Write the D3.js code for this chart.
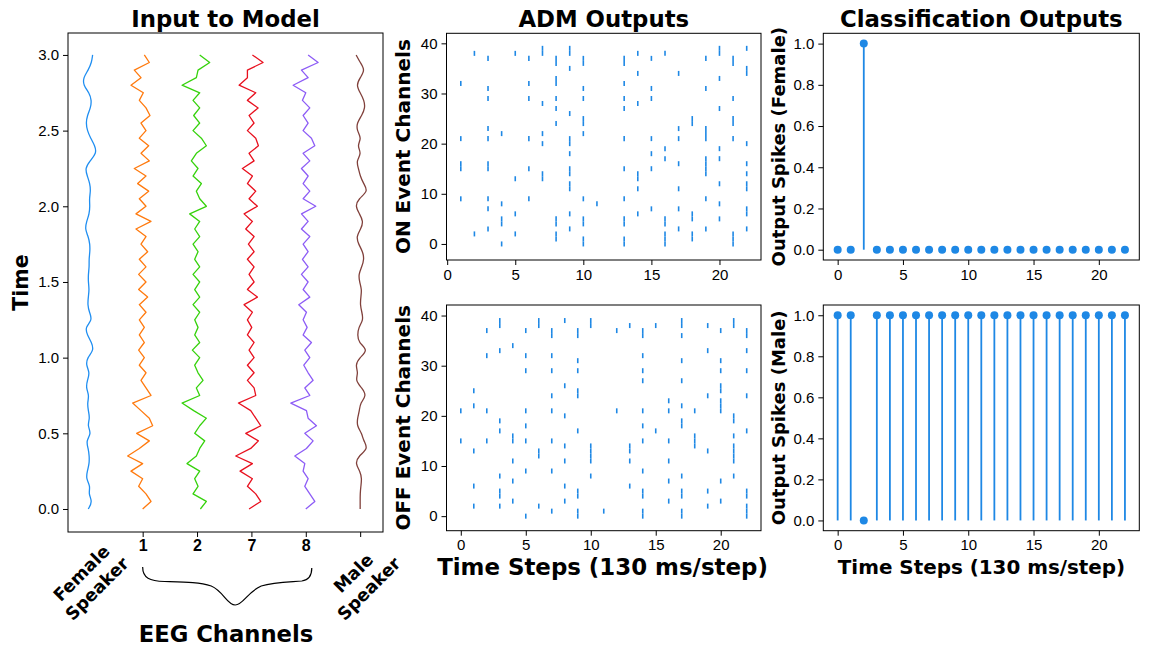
<!DOCTYPE html>
<html>
<head>
<meta charset="utf-8">
<script src="https://cdn.jsdelivr.net/npm/d3@7"></script>
<style>
  body { margin: 0; background: #fff; }
  svg { display: block; font-family: "DejaVu Sans", sans-serif; }
  .tick text { font-size: 15px; fill: #000; }
  .tick line { stroke: #000; }
  .domain { display: none; }
  .lbl { font-weight: bold; fill: #000; }
</style>
</head>
<body>
<svg id="fig" width="1161" height="652"></svg>
<script>
// ---- input traces (sampled every 0.05 s from 0 to 3 s), offsets in trace units
var traceTime = d3.range(0, 61).map(function(i) { return i * 0.05; });
var femaleSpeaker = [0,13,0,7,-7,-3,3,3,0,-7, 10,-3,5,0,-3,3,-7,-3,5,-7,
  -3,17,10,-3,-10,13,3,-2,0,3, 0,0,3,2,5,5,0,-10,-5,3,
  5,3,7,5,-3,-10,5,25,20,7, -3,-7,-3,7,10,3,-15,-15,0,10, 13];
var eegCh1 = [0,25,10,-12,0,-35,0,-45,-10,20, -18,30,20,-5,-30,25,10,-5,10,-10,
  5,-12,5,-10,5,-10,10,-10,15,-12, 10,-12,10,-10,15,-5,10,-20,25,-20,
  10,-10,18,-15,10,-25,20,-5,18,-10, 10,-5,22,10,-10,2,-35,-5,-25,20, 5];
var eegCh2 = [10,28,-12,3,-7,8,-30,-2,8,23, -7,8,28,-10,-45,8,-2,18,3,-7,
  8,-14,8,-7,3,-7,8,-12,8,-7, 8,-12,8,-7,3,-12,8,-7,8,-22,
  28,8,-2,13,-12,3,-17,-2,28,13, -12,8,-10,8,-12,8,-45,-2,3,38, 8];
var eegCh7 = [-7,28,13,-12,3,-34,3,-47,-2,21, -17,28,13,-2,-39,13,8,-12,8,-12,
  8,-7,8,-12,1,-12,3,-22,18,-12, 8,-7,8,-12,8,-9,8,-17,3,-22,
  18,-7,13,-12,3,-27,8,-7,21,13, -12,8,-7,20,-12,13,-37,-12,-12,35, 3];
var eegCh8 = [0,27,12,-3,7,-8,-3,-33,2,22, -3,32,7,2,-45,12,-3,22,7,-6,
  12,-3,17,-8,4,-8,2,-21,12,-8, 7,-13,7,-10,7,-8,12,-13,7,-13,
  30,-8,12,-8,7,-13,12,-8,27,17, -8,7,-8,12,-10,0,-38,7,-13,37, 7];
var maleSpeaker = [0,0,0,2,5,0,-15,-5,25,10, 5,-10,-8,-2,0,20,5,-15,-5,-15,
  -2,25,-5,-8,-5,10,5,0,2,5, -2,-5,5,12,8,-5,-12,2,10,-2,
  -15,-5,25,10,0,-5,-12,5,-10,5, -10,-10,5,15,12,0,-12,0,15,0, -12];
var traceLabels = ["", "1", "2", "7", "8", ""];
var traceColors = ["#1f8ef1", "#ff7a0e", "#36d20c", "#e8101e", "#8d5cf6", "#80403b"];

// ---- ADM event channels per time step (index = step 0..22)
var onChannels = [
  [], [9,15,16,21,32], [2,38], [3,7,9,15,16,21,23,29,31,37], [0,4,5,8,22],
  [2,6,13,38], [9,15,21,29,32,37], [13,14,20,22,28,38,39],
  [1,2,4,5,24,27,29,32,33,36,37], [3,6,11,12,14,15,18,20,21,26,35,38,39],
  [0,1,4,5,9,22,24,25,29,31,36,37], [8], [], [0,1,4,5,9,15,21,27,29,32,36,37],
  [6,11,13,14,28,34,38], [7,15,18,21,29,31,37], [0,1,2,4,5,17,19,38],
  [3,7,11,16,21,23,34], [1,2,5,6,24,25], [3,9,14,15,16,17,21,22,23,31,37],
  [5,8,12,17,19,27,33,38,39], [0,1,2,21,24,25,29,36,37],
  [3,6,7,11,12,14,16,20,34,35,39]
];
var offChannels = [
  [15,21], [2,6,13,22,25], [15,21,32,37], [2,4,5,8,17,19,33,38,39],
  [3,7,11,15,16,34], [0,9,15,18,21,29,32,37], [2,12,13,38,39],
  [1,9,15,21,24,29,32,36,37], [3,6,11,14,20,26,39],
  [0,1,4,5,17,24,25,29,31,36,37], [8,11,12,13,14,38,39], [1], [21,37],
  [6,11,13,14,38], [0,1,4,5,9,15,18,21,27,29,32,36,37], [17,38],
  [3,7,11,15,21,23], [0,1,4,5,8,18,19,22,27,31,36,38,39], [14,15,16,21],
  [2,5,13,24,33,38], [3,7,21,22,23,25,26,29,31,37],
  [8,11,12,13,14,16,19,20,38,39], [0,1,2,4,5,17,24,29,33,36,37]
];

// ---- classification output spikes per time step
var femaleSpikes = [0,0,1,0,0,0,0,0,0,0,0,0,0,0,0,0,0,0,0,0,0,0,0];
var maleSpikes   = [1,1,0,1,1,1,1,1,1,1,1,1,1,1,1,1,1,1,1,1,1,1,1];

var blue = "#1e88e5";
var svg = d3.select("#fig");

// draw a framed panel with left/bottom axes
function frame(b) {
  svg.append("rect").attr("x", b.x).attr("y", b.y).attr("width", b.w).attr("height", b.h)
    .attr("fill", "none").attr("stroke", "#000").attr("stroke-width", 1);
}
function axes(b, xs, ys, xTicks, yTicks, yFmt) {
  svg.append("g").attr("transform", "translate(" + b.x + ",0)")
    .call(d3.axisLeft(ys).tickValues(yTicks).tickFormat(d3.format(yFmt)).tickSize(5).tickPadding(4));
  if (xTicks) {
    svg.append("g").attr("transform", "translate(0," + (b.y + b.h) + ")")
      .call(d3.axisBottom(xs).tickValues(xTicks).tickFormat(d3.format("d")).tickSize(5).tickPadding(4));
  }
}
function yLabel(x, b, text, size) {
  svg.append("text").attr("class", "lbl")
    .attr("transform", "translate(" + x + "," + (b.y + b.h / 2) + ") rotate(-90)")
    .attr("text-anchor", "middle").style("font-size", size + "px").text(text);
}
function title(b, text) {
  svg.append("text").attr("class", "lbl").attr("x", b.x + b.w / 2).attr("y", 26.7)
    .attr("text-anchor", "middle").style("font-size", "22.8px").text(text);
}

// ---------- Input to Model ----------
var L = {x: 68, y: 33, w: 315, h: 499};
var xL = d3.scaleLinear().domain([-0.373, 5.42]).range([L.x, L.x + L.w]);
var yL = d3.scaleLinear().domain([-0.152, 3.145]).range([L.y + L.h, L.y]);
var ampGain = 1 / 163;
var traces = [femaleSpeaker, eegCh1, eegCh2, eegCh7, eegCh8, maleSpeaker];
traces.forEach(function(vals, i) {
  var line = d3.line()
    .x(function(v) { return xL(i + v * ampGain); })
    .y(function(v, k) { return yL(traceTime[k]); })
    .curve(i === 0 || i === 5 ? d3.curveBasis : d3.curveLinear);
  svg.append("path").attr("d", line(vals)).attr("fill", "none")
    .attr("stroke", traceColors[i]).attr("stroke-width", 1.3)
    .attr("stroke-linejoin", "round");
});
frame(L);
axes(L, xL, yL, null, [0, 0.5, 1, 1.5, 2, 2.5, 3], ".1f");
var gx = svg.append("g").attr("transform", "translate(0," + (L.y + L.h) + ")")
  .call(d3.axisBottom(xL).tickValues([1, 2, 3, 4, 5])
    .tickFormat(function(d) { return traceLabels[d]; }).tickSize(5).tickPadding(3));
gx.selectAll("text").style("font-weight", "bold").style("font-size", "16px");
title(L, "Input to Model");
yLabel(28.3, L, "Time", 20.5);

// speaker labels
[[0, "Female", "Speaker"], [5, "Male", "Speaker"]].forEach(function(s) {
  var t = svg.append("text").attr("class", "lbl").style("font-size", "17.5px")
    .attr("text-anchor", "middle")
    .attr("transform", "translate(" + (xL(s[0]) + 1) + ",581) rotate(-45)");
  t.append("tspan").attr("x", 0).attr("y", -5).text(s[1]);
  t.append("tspan").attr("x", 0).attr("y", 17).text(s[2]);
});

// brace under EEG channels
var bx1 = xL(1), bx2 = xL(4) + 6, tip = (bx1 + bx2) / 2 + 8;
var brace = "M" + bx1 + ",567 C" + bx1 + ",578 " + (bx1 + 7) + ",581 " + (bx1 + 22) + ",581.5" +
  " C" + (tip - 51) + ",582 " + (tip - 36) + ",582 " + (tip - 24) + ",586" +
  " C" + (tip - 12) + ",591 " + (tip - 8) + ",605 " + tip + ",605" +
  " C" + (tip + 8) + ",605 " + (tip + 12) + ",592 " + (tip + 26) + ",586" +
  " C" + (tip + 39) + ",582 " + (bx2 - 22) + ",582 " + (bx2 - 10) + ",581" +
  " C" + (bx2 - 3) + ",580 " + bx2 + ",576 " + bx2 + ",568";
svg.append("path").attr("d", brace).attr("fill", "none").attr("stroke", "#000").attr("stroke-width", 1.2);
svg.append("text").attr("class", "lbl").attr("x", (L.x + L.w / 2) + 0.5).attr("y", 641.7)
  .attr("text-anchor", "middle").style("font-size", "22.7px").text("EEG Channels");

// ---------- ADM Outputs ----------
var ON = {x: 446.5, y: 33.3, w: 314.5, h: 226.7};
var OFF = {x: 446.5, y: 305, w: 314.5, h: 225.7};
function raster(b, chans, xDom, yDom) {
  var xs = d3.scaleLinear().domain(xDom).range([b.x, b.x + b.w]);
  var ys = d3.scaleLinear().domain(yDom).range([b.y + b.h, b.y]);
  var pts = chans.flatMap(function(cs, step) {
    return cs.map(function(c) { return {step: step, ch: c}; });
  });
  svg.append("g").selectAll("line").data(pts).join("line")
    .attr("x1", function(d) { return xs(d.step); })
    .attr("x2", function(d) { return xs(d.step); })
    .attr("y1", function(d) { return ys(d.ch - 0.5); })
    .attr("y2", function(d) { return ys(d.ch + 0.5); })
    .attr("stroke", blue).attr("stroke-width", 1.6);
  frame(b);
  axes(b, xs, ys, [0, 5, 10, 15, 20], [0, 10, 20, 30, 40], "d");
}
raster(ON, onChannels, [-0.05, 23.05], [-3.2, 42]);
raster(OFF, offChannels, [-1.1, 23.1], [-2.9, 42.1]);
title(ON, "ADM Outputs");
yLabel(410, ON, "ON Event Channels", 20);
yLabel(410, OFF, "OFF Event Channels", 20);
svg.append("text").attr("class", "lbl").attr("x", 602.5).attr("y", 575)
  .attr("text-anchor", "middle").style("font-size", "22.9px").text("Time Steps (130 ms/step)");

// ---------- Classification Outputs ----------
var FE = {x: 823.3, y: 33.3, w: 316, h: 226.7};
var MA = {x: 823.3, y: 305, w: 316, h: 225.7};
function stem(b, vals) {
  var xs = d3.scaleLinear().domain([-1.1, 23.1]).range([b.x, b.x + b.w]);
  var ys = d3.scaleLinear().domain([-0.05, 1.05]).range([b.y + b.h, b.y]);
  var g = svg.append("g");
  g.selectAll("line").data(vals).join("line")
    .attr("x1", function(d, i) { return xs(i); }).attr("x2", function(d, i) { return xs(i); })
    .attr("y1", ys(0)).attr("y2", function(d) { return ys(d); })
    .attr("stroke", blue).attr("stroke-width", 1.8);
  g.selectAll("circle").data(vals).join("circle")
    .attr("cx", function(d, i) { return xs(i); }).attr("cy", function(d) { return ys(d); })
    .attr("r", 4).attr("fill", blue);
  frame(b);
  axes(b, xs, ys, [0, 5, 10, 15, 20], [0, 0.2, 0.4, 0.6, 0.8, 1.0], ".1f");
}
stem(FE, femaleSpikes);
stem(MA, maleSpikes);
title(FE, "Classification Outputs");
yLabel(785, FE, "Output Spikes (Female)", 18);
yLabel(785, MA, "Output Spikes (Male)", 18);
svg.append("text").attr("class", "lbl").attr("x", 981.5).attr("y", 573.5)
  .attr("text-anchor", "middle").style("font-size", "19.9px").text("Time Steps (130 ms/step)");
</script>
</body>
</html>
